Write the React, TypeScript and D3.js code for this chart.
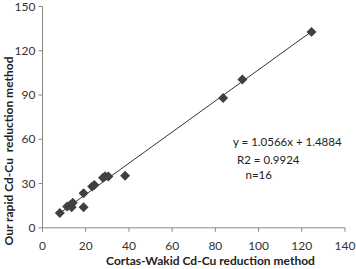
import React from "react";
import * as d3 from "d3";

const cortasWakid = [8, 11.4, 13, 14, 13.5, 19, 19, 23, 24, 28, 29, 30.5, 38.2, 83.6, 92.5, 124.5];
const rapidMethod = [10, 14.5, 15.5, 17, 14, 14, 23.5, 28, 29, 34, 35, 34.8, 35.3, 88, 100.5, 132.8];
const xTicks = [0, 20, 40, 60, 80, 100, 120, 140];
const yTicks = [0, 30, 60, 90, 120, 150];
const slope = 1.0566;
const intercept = 1.4884;
const annotation = ["y = 1.0566x + 1.4884", "R2 = 0.9924", "n=16"];
const xTitle = "Cortas-Wakid Cd-Cu reduction method";
const yTitle = "Our rapid Cd-Cu\u00a0\u00a0reduction method";

const W = 356;
const H = 269;
const left = 42.5;
const right = 345;
const top = 6.5;
const bottom = 227.8;
const font = "Lato, 'Open Sans', sans-serif";

export default function App() {
  const x = d3.scaleLinear().domain([0, 140]).range([left, right]);
  const y = d3.scaleLinear().domain([0, 150]).range([bottom, top]);
  const data = cortasWakid.map((v, i) => [v, rapidMethod[i]] as [number, number]);
  const xmin = d3.min(cortasWakid) as number;
  const xmax = d3.max(cortasWakid) as number;
  const line = d3.line<number>().x((d) => x(d)).y((d) => y(slope * d + intercept));
  const diamond = d3.symbol().type(d3.symbolSquare).size(50)();
  const axisColor = "#878787";
  const textColor = "#333";
  return (
    <svg width={W} height={H} style={{ position: "absolute", left: 0, top: 0 }} fontFamily={font}>
      <rect width={W} height={H} fill="#fff" />
      {/* y axis */}
      <line x1={left} x2={left} y1={top} y2={bottom} stroke={axisColor} strokeWidth={1} />
      {yTicks.map((t) => (
        <g key={"y" + t}>
          <line x1={left - 4} x2={left} y1={y(t)} y2={y(t)} stroke={axisColor} />
          <text x={left - 7} y={y(t)} dy="0.35em" textAnchor="end" fontSize={12} fill={textColor}>
            {t}
          </text>
        </g>
      ))}
      {/* x axis */}
      <line x1={left} x2={right} y1={bottom} y2={bottom} stroke={axisColor} strokeWidth={1} />
      {xTicks.map((t) => (
        <g key={"x" + t}>
          <line x1={x(t)} x2={x(t)} y1={bottom} y2={bottom + 4} stroke={axisColor} />
          <text x={x(t)} y={246} dy="0.35em" textAnchor="middle" fontSize={12} fill={textColor}>
            {t}
          </text>
        </g>
      ))}
      {/* trendline */}
      <path d={line([xmin, xmax]) || ""} stroke="#333" strokeWidth={1} fill="none" />
      {data.map((d, i) => (
        <path key={i} d={diamond} transform={`translate(${x(d[0])},${y(d[1])}) rotate(45)`} fill="#404040" />
      ))}
      {/* annotation */}
      <text x={233} y={142} dy="0.35em" fontSize={11.5} fill="#222">{annotation[0]}</text>
      <text x={237} y={160} dy="0.35em" fontSize={11.5} fill="#222">{annotation[1]}</text>
      <text x={245.5} y={174.5} dy="0.35em" fontSize={11.5} fill="#222">{annotation[2]}</text>
      {/* titles */}
      <text x={210.5} y={264.5} textAnchor="middle" fontSize={12} fontWeight="bold" fill="#222">
        {xTitle}
      </text>
      <text
        transform={`translate(12.5,151) rotate(-90)`}
        textAnchor="middle"
        fontSize={12}
        fontWeight="bold"
        fill="#222"
      >
        {yTitle}
      </text>
    </svg>
  );
}
